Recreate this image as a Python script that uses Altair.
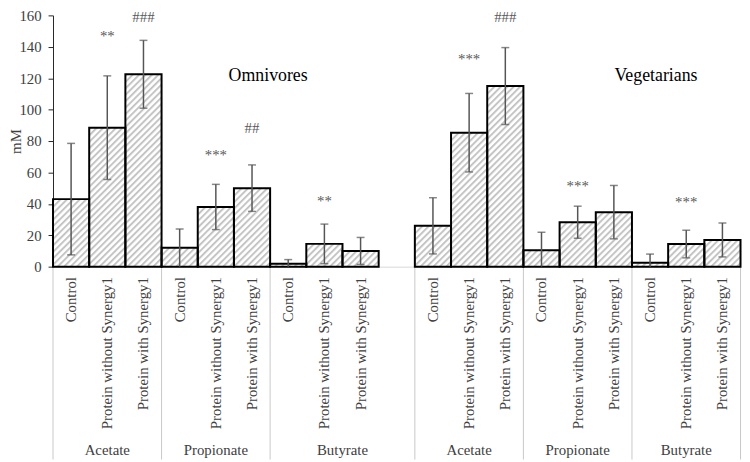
import base64
import altair as alt
import pandas as pd

# ---------------- data ----------------
diets = ["Omnivores", "Vegetarians"]
acids = ["Acetate", "Propionate", "Butyrate"]
treatments = ["Control", "Protein without Synergy1", "Protein with Synergy1"]

omni_mean = [43.0, 88.5, 122.5, 12.0, 38.0, 50.0, 1.8, 14.5, 10.0]
omni_sd = [35.5, 33.0, 21.6, 12.0, 14.4, 14.8, 2.7, 12.6, 8.6]
veg_mean = [26.0, 85.3, 115.0, 10.5, 28.3, 34.7, 2.5, 14.4, 17.0]
veg_sd = [17.9, 25.0, 24.5, 11.4, 10.2, 17.0, 5.5, 8.8, 10.8]

omni_marks = ["", "**", "###", "", "***", "##", "", "**", ""]
omni_mark_level = [0, 147, 159, 0, 71, 88, 0, 42, 0]
veg_marks = ["", "***", "###", "", "***", "", "", "***", ""]
veg_mark_level = [0, 132, 159, 0, 51.5, 0, 0, 41, 0]

panel_titles = ["Omnivores", "Vegetarians"]
panel_title_level = [121.5, 121.5]

# ---------------- build tables ----------------
keys = {d: [f"{d}|{a}|{t}" for a in acids for t in treatments] for d in diets}
slots = keys["Omnivores"] + ["gap"] + keys["Vegetarians"]

rows = []
for d, means, sds in [("Omnivores", omni_mean, omni_sd), ("Vegetarians", veg_mean, veg_sd)]:
    for k, m, s in zip(keys[d], means, sds):
        rows.append({"key": k, "mean": m, "lo": max(0.0, m - s), "hi": m + s})
bars = pd.DataFrame(rows)

ann_rows = []
for d, marks, lev in [("Omnivores", omni_marks, omni_mark_level), ("Vegetarians", veg_marks, veg_mark_level)]:
    for k, t, l in zip(keys[d], marks, lev):
        if t:
            ann_rows.append({"key": k, "text": t, "level": l})
ann = pd.DataFrame(ann_rows)

# group labels (3-slot groups centred on middle slot; omnivore butyrate spans the gap too)
grp_mid = pd.DataFrame([
    {"key": f"{d}|{a}|{treatments[1]}", "label": a}
    for d in diets for a in acids if not (d == "Omnivores" and a == "Butyrate")
])
grp_wide = pd.DataFrame([{"key": f"Omnivores|Butyrate|{treatments[2]}", "label": "Butyrate"}])
sep_start = pd.DataFrame([{"key": f"{d}|{a}|{treatments[0]}"} for d in diets for a in acids])
sep_end = pd.DataFrame([{"key": f"Vegetarians|Butyrate|{treatments[2]}"}])

title_o = pd.DataFrame([{"key": "Omnivores|Butyrate|Control", "text": panel_titles[0], "level": panel_title_level[0]}])
title_v = pd.DataFrame([{"key": "Vegetarians|Butyrate|Control", "text": panel_titles[1], "level": panel_title_level[1]}])

# ---------------- styling ----------------
W, H = 695, 254
FONT = "'Liberation Serif', 'Times New Roman', 'DejaVu Serif', serif"
TXT = "#404040"

hatch_svg = (
    '<svg xmlns="http://www.w3.org/2000/svg" width="100%" height="100%">'
    '<defs><pattern id="h" width="4.6" height="4.6" patternUnits="userSpaceOnUse" '
    'patternTransform="rotate(45)"><rect x="0" y="0" width="2" height="4.6" fill="#c4c4c4"/>'
    '</pattern></defs><rect width="100%" height="100%" fill="url(#h)"/></svg>'
)
hatch_url = "data:image/svg+xml;base64," + base64.b64encode(hatch_svg.encode()).decode()

x_axis = alt.Axis(
    title=None, labelAngle=-90, labelAlign="right", labelBaseline="middle",
    labelExpr="datum.value == 'gap' ? '' : split(datum.value, '|')[2]",
    labelFont=FONT, labelFontSize=15, labelColor=TXT, labelPadding=10, labelLimit=300,
    ticks=False, domainColor="#d9d9d9", domainWidth=1,
)
y_axis = alt.Axis(
    values=list(range(0, 161, 20)), grid=False, domainColor="#262626", tickColor="#262626",
    tickSize=5, labelPadding=7, labelFont=FONT, labelFontSize=15, labelColor=TXT,
    title="mM", titleFont=FONT, titleFontSize=15, titleFontWeight="normal", titleColor=TXT,
    titleAngle=-90, titleX=-38, titleY=H / 2, titleAlign="center", titleBaseline="middle",
)
x_scale = alt.Scale(domain=slots, paddingInner=0, paddingOuter=0)
y_scale = alt.Scale(domain=[0, 160], nice=False)


def X(**kw):
    return alt.X("key:N", scale=x_scale, axis=x_axis, sort=slots, **kw)


def Y(field):
    return alt.Y(field, scale=y_scale, axis=y_axis)


hatch = alt.Chart(bars).mark_image(aspect=False, url=hatch_url).encode(
    x=X(), y=Y("mean:Q"), y2=alt.datum(0)
)
outline = alt.Chart(bars).mark_bar(fillOpacity=0, stroke="black", strokeWidth=2).encode(
    x=X(), y=Y("mean:Q"), y2=alt.datum(0)
)
err = alt.Chart(bars).mark_rule(color="#555555", strokeWidth=1.5).encode(
    x=X(), y=Y("lo:Q"), y2="hi:Q"
)
cap_hi = alt.Chart(bars).mark_tick(color="#555555", thickness=1.5, size=8).encode(
    x=X(), y=Y("hi:Q")
)
cap_lo = alt.Chart(bars).transform_filter("datum.lo > 0").mark_tick(
    color="#555555", thickness=1.5, size=8).encode(x=X(), y=Y("lo:Q"))

marks = alt.Chart(ann).mark_text(font=FONT, fontSize=15, color="#595959", baseline="middle").encode(
    x=X(), y=Y("level:Q"), text="text:N"
)
t_o = alt.Chart(title_o).mark_text(font=FONT, fontSize=18, color="black", baseline="middle", dx=-2).encode(
    x=X(bandPosition=0), y=Y("level:Q"), text="text:N"
)
t_v = alt.Chart(title_v).mark_text(font=FONT, fontSize=18, color="black", baseline="middle", dx=6).encode(
    x=X(bandPosition=0.5), y=Y("level:Q"), text="text:N"
)

GL_Y = 439.5
g1 = alt.Chart(grp_mid).mark_text(font=FONT, fontSize=15, color=TXT, baseline="middle").encode(
    x=X(bandPosition=0.5), y=alt.value(GL_Y), text="label:N"
)
g2 = alt.Chart(grp_wide).mark_text(font=FONT, fontSize=15, color=TXT, baseline="middle").encode(
    x=X(bandPosition=0), y=alt.value(GL_Y), text="label:N"
)
s1 = alt.Chart(sep_start).mark_rule(color="#c8c8c8", strokeWidth=1).encode(
    x=X(bandPosition=0), y=alt.value(H), y2=alt.value(H + 195)
)
s2 = alt.Chart(sep_end).mark_rule(color="#c8c8c8", strokeWidth=1).encode(
    x=X(bandPosition=1), y=alt.value(H), y2=alt.value(H + 195)
)

chart = alt.layer(
    s1, s2, hatch, outline, err, cap_hi, cap_lo, marks, t_o, t_v, g1, g2
).properties(
    width=W, height=H,
    autosize=alt.AutoSizeParams(type="none"),
    padding={"left": 45.5, "top": 5, "right": 1.5, "bottom": 195},
    background="white",
).configure_view(stroke=None)

chart.save("out.html", embed_options={"renderer": "svg", "actions": False})
